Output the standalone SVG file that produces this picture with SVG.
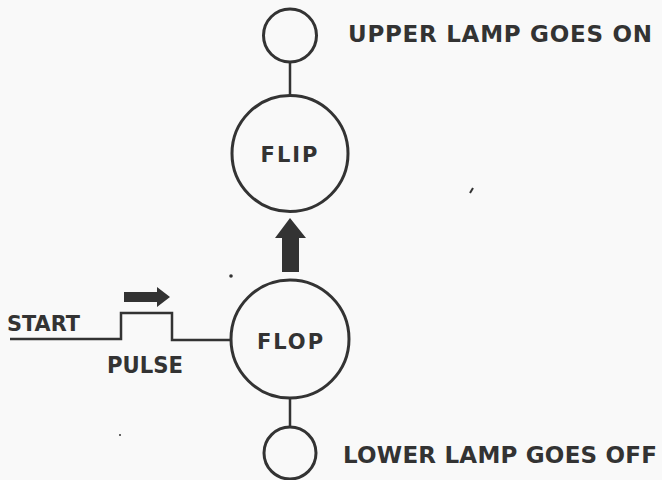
<svg xmlns="http://www.w3.org/2000/svg" width="662" height="480" viewBox="0 0 662 480">
<style>
.bg{fill:#f9f9f9}
.c{fill:none;stroke:#333;stroke-width:3}
.w{fill:none;stroke:#333;stroke-width:2.5}
.t{font-family:"DejaVu Sans","Liberation Sans",sans-serif;font-weight:bold;fill:#333}
.f{fill:#333}
</style>
<rect class="bg" x="0" y="0" width="662" height="480"/>
<g id="connectors">
<line class="w" x1="290" y1="62" x2="290" y2="95"/>
<line class="w" x1="290" y1="398" x2="290" y2="428"/>
<polyline class="w" points="10,339 121,339 121,313 172,313 172,340 231,340"/>
<polygon id="arrow-up" class="f" points="290,218 306,238 299,238 299,272 282,272 282,238 275,238"/>
<polygon id="arrow-right" class="f" points="124,292 157,292 157,287 170,297 157,307 157,302 124,302"/>
</g>
<g id="upper-lamp">
<circle class="c" cx="290" cy="35.5" r="26.5"/>
<text class="t" x="348" y="42" font-size="23" textLength="304" lengthAdjust="spacing">UPPER LAMP GOES ON</text>
</g>
<g id="flip">
<circle class="c" cx="290" cy="153.5" r="58"/>
<text class="t" x="290" y="162" font-size="21" font-weight="normal" text-anchor="middle" letter-spacing="2">FLIP</text>
</g>
<g id="flop">
<circle class="c" cx="290" cy="339" r="59"/>
<text class="t" x="291" y="349" font-size="21" font-weight="normal" text-anchor="middle" letter-spacing="2">FLOP</text>
</g>
<g id="lower-lamp">
<circle class="c" cx="290" cy="453" r="26"/>
<text class="t" x="343" y="463" font-size="23" textLength="314" lengthAdjust="spacing">LOWER LAMP GOES OFF</text>
</g>
<g id="start">
<text class="t" x="7" y="331" font-size="22" textLength="73" lengthAdjust="spacingAndGlyphs">START</text>
</g>
<g id="pulse">
<text class="t" x="107" y="373" font-size="23" textLength="76" lengthAdjust="spacingAndGlyphs">PULSE</text>
</g>
<circle class="f" cx="231" cy="276" r="1.8"/>
<path d="M470,193 L473,188" stroke="#333" stroke-width="2"/>
<circle class="f" cx="120" cy="435" r="1"/>
</svg>
